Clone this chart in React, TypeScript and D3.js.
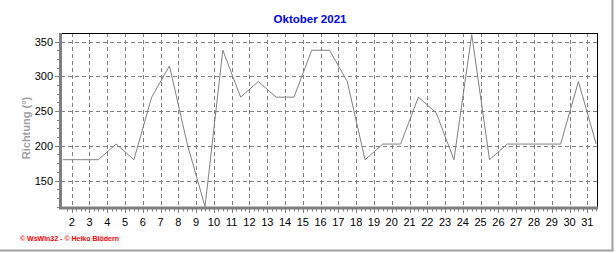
import React from "react";
import * as d3 from "d3";

const days = d3.range(1, 32);
const direction = [180, 180, 180, 202.5, 180, 270, 315, 202.5, 112.5, 337.5, 270, 292.5, 270, 270, 337.5, 337.5, 292.5, 180, 202.5, 202.5, 270, 247.5, 180, 360, 180, 202.5, 202.5, 202.5, 202.5, 292.5, 202.5];
const xLabels = d3.range(2, 32);
const yTicks = [150, 200, 250, 300, 350];
const title = "Oktober 2021";
const yTitle = "Richtung (°)";
const footer = "© WsWin32 - © Heiko Blödern";

const W = 616, H = 253;
const L = 61, R = 597, T = 33, B = 208;

export default function App() {
  const x = d3.scaleLinear().domain([1, 31]).range([62.8, 596.2]);
  const y = d3.scaleLinear().domain([112.5, 360]).range([206.6, 34.6]);
  const line = d3.line<number>().x((_, i) => x(days[i])).y((v) => y(v));
  const minorX = d3.range(1.5 - 0.25, 31.5, 0.25).filter((d) => x(d) > L + 1 && x(d) < R);
  const minorY = d3.range(112.5, 361, 12.5).filter((v) => y(v) > T && y(v) < B);
  const font = "'Liberation Sans', Arial, sans-serif";
  return (
    <svg width={W} height={H} style={{ position: "absolute", left: 0, top: 0 }} fontFamily={font}>
      <rect x={0} y={0} width={W} height={H} fill="#fff" />
      <text x={310} y={23} textAnchor="middle" fontSize={11.5} fontWeight="bold" fill="#0000ff">{title}</text>
      {/* grid */}
      {xLabels.map((k) => (
        <line key={"gx" + k} x1={Math.round(x(k - 0.5)) + 0.5} x2={Math.round(x(k - 0.5)) + 0.5} y1={T} y2={B} stroke="#808080" strokeDasharray="4,3" />
      ))}
      {yTicks.map((v) => (
        <line key={"gy" + v} x1={L} x2={R} y1={Math.round(y(v)) + 0.5} y2={Math.round(y(v)) + 0.5} stroke="#808080" strokeDasharray="4,3" />
      ))}
      {/* frame */}
      <line x1={L} x2={R + 0.5} y1={T + 0.5} y2={T + 0.5} stroke="#000" />
      <line x1={R + 0.5} x2={R + 0.5} y1={T} y2={B} stroke="#000" />
      {/* data */}
      <path d={line(direction) || ""} fill="none" stroke="#808080" strokeWidth={1} />
      {/* axes */}
      <line x1={L - 0.5} x2={L - 0.5} y1={T} y2={B + 1} stroke="#808080" strokeWidth={3} />
      <line x1={L - 2} x2={R + 1} y1={B} y2={B} stroke="#808080" strokeWidth={3} />
      {minorX.map((d) => (
        <line key={"tx" + d} x1={Math.round(x(d)) + 0.5} x2={Math.round(x(d)) + 0.5} y1={B + 1} y2={Number.isInteger(d - 0.5) ? B + 5 : B + 3.5} stroke="#808080" />
      ))}
      {minorY.map((v) => (
        <line key={"ty" + v} x1={L - 4} x2={L - 1} y1={Math.round(y(v)) + 0.5} y2={Math.round(y(v)) + 0.5} stroke="#808080" />
      ))}
      {yTicks.map((v) => (
        <line key={"my" + v} x1={L - 6} x2={L - 1} y1={Math.round(y(v)) + 0.5} y2={Math.round(y(v)) + 0.5} stroke="#808080" />
      ))}
      {yTicks.map((v) => (
        <text key={"ly" + v} x={53} y={y(v) + 4} textAnchor="end" fontSize={11} fill="#000">{v}</text>
      ))}
      {xLabels.map((k) => (
        <text key={"lx" + k} x={x(k - 0.5)} y={226} textAnchor="middle" fontSize={11} fill="#000">{k}</text>
      ))}
      <text transform={`translate(30,128) rotate(-90)`} textAnchor="middle" fontSize={11} fontWeight="bold" fill="#a0a0a0">{yTitle}</text>
      <text x={20} y={241} fontSize={7} fontWeight="bold" fill="#ff0000">{footer}</text>
      {/* outer frame */}
      <line x1={612.5} x2={612.5} y1={0} y2={251} stroke="#a0a0a0" strokeWidth={2} />
      <line x1={0} x2={613.5} y1={250.5} y2={250.5} stroke="#a0a0a0" strokeWidth={2} />
    </svg>
  );
}
